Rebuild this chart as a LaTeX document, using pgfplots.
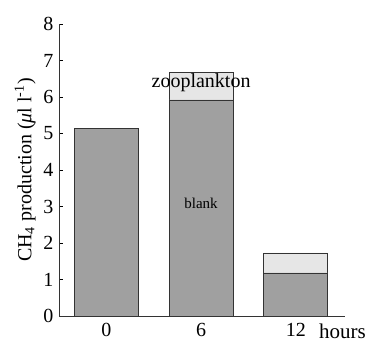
\documentclass[border=0pt]{standalone}
\usepackage{pgfplots}
\pgfplotsset{compat=1.18}
\usepackage{fontspec}
\setmainfont{Liberation Serif}
\definecolor{darkfill}{HTML}{A0A0A0}
\definecolor{lightfill}{HTML}{E6E6E6}
\begin{document}
\begin{tikzpicture}
\useasboundingbox (-59pt,-26pt) rectangle (312pt,316pt);
\begin{axis}[
  scale only axis,
  width=286pt, height=292pt,
  xmin=-0.5, xmax=2.52,
  ymin=0, ymax=8,
  axis lines=left,
  axis line style={-, line width=0.8pt, black!80},
  ybar stacked,
  bar width=64pt,
  xtick={0,1,2},
  xticklabels={0,6,12},
  xtick style={draw=none},
  ytick={0,1,...,8},
  ytick style={black, line width=0.6pt},
  tick align=inside,
  major tick length=4pt,
  /pgf/number format/assume math mode=true,
  tick label style={font=\fontsize{20}{24}\selectfont},
  yticklabel style={xshift=-2pt},
  xticklabel style={yshift=-4pt},
  ylabel={CH\textsubscript{4} production (\textit{μ}l l\textsuperscript{-1})},
  ylabel style={font=\fontsize{20}{24}\selectfont, yshift=1pt},
  clip=false,
]
\addplot[fill=darkfill, draw=black!80, line width=0.6pt] coordinates {(0,5.15) (1,5.92) (2,1.18)};
\addplot[fill=lightfill, draw=black!80, line width=0.6pt] coordinates {(0,0) (1,0.76) (2,0.55)};
\coordinate (zoo) at (axis cs:1,6.38);
\coordinate (blk) at (axis cs:1,3.08);
\coordinate (hrs) at (axis cs:2.235,-0.63);
\end{axis}
\node[font=\fontsize{20}{24}\selectfont] at (zoo) {zooplankton};
\node[font=\fontsize{15}{18}\selectfont] at (blk) {blank};
\node[font=\fontsize{21}{25}\selectfont, anchor=base west, inner sep=1pt] at (hrs) {hours};
\end{tikzpicture}
\end{document}
